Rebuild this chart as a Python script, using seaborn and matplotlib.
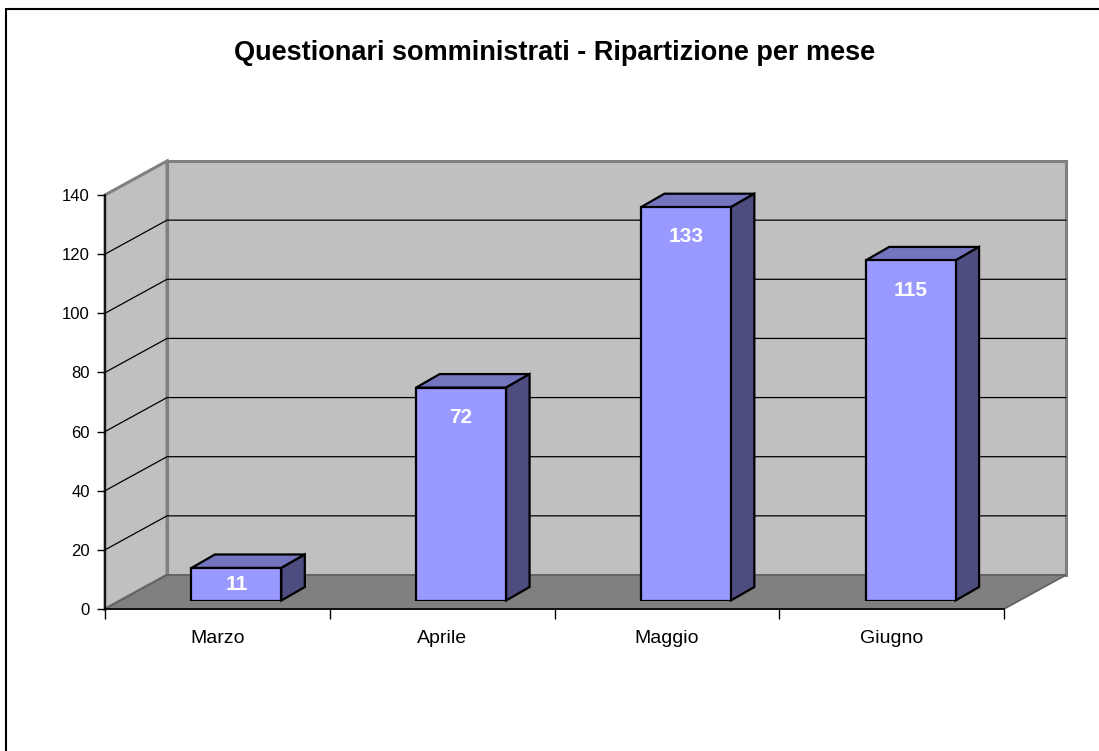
import numpy as np
import pandas as pd
import seaborn as sns
import matplotlib.pyplot as plt
import matplotlib.transforms as mtransforms
from matplotlib.patches import Polygon, Rectangle

# data
months = ['Marzo', 'Aprile', 'Maggio', 'Giugno']
counts = [11, 72, 133, 115]
y_ticks = [0, 20, 40, 60, 80, 100, 120, 140]
title = 'Questionari somministrati - Ripartizione per mese'

sns.set_style('white')
plt.rcParams['font.family'] = ['Liberation Sans', 'DejaVu Sans']
plt.rcParams['text.color'] = 'black'

W, H = 1099, 751
fig = plt.figure(figsize=(W / 100, H / 100), dpi=100)

# front plane of the 3D box (pixels, top origin)
x0, x1 = 105, 1004
yb, yt = 609, 195
wall = (62, 34)         # shift to the back wall
bar_shift = (19, 8.5)   # bars sit a bit inside the box
bar_depth = (23.5, 13.5)


def pos(dx=0, dy=0):
    return [(x0 + dx) / W, (H - yb + dy) / H, (x1 - x0) / W, (yb - yt) / H]


ax = fig.add_axes(pos())
axb = fig.add_axes(pos(*bar_shift))

ident = mtransforms.IdentityTransform()


def px(a, x, y, off=(0, 0)):
    p = a.transData.transform((x, y))
    return (p[0] + off[0], p[1] + off[1])


ax.set_xlim(-0.5, 3.5)
ax.set_ylim(0, 140)
ax.patch.set_visible(False)

# walls and floor
back = [px(ax, -0.5, 0, wall), px(ax, 3.5, 0, wall), px(ax, 3.5, 140, wall), px(ax, -0.5, 140, wall)]
floor = [px(ax, -0.5, 0), px(ax, 3.5, 0), px(ax, 3.5, 0, wall), px(ax, -0.5, 0, wall)]
side = [px(ax, -0.5, 0), px(ax, -0.5, 0, wall), px(ax, -0.5, 140, wall), px(ax, -0.5, 140)]
ax.add_patch(Polygon(back, closed=True, facecolor='#C0C0C0', edgecolor='#808080', lw=2.2,
                     transform=ident, clip_on=False, zorder=0.5))
ax.add_patch(Polygon(side, closed=True, facecolor='#C0C0C0', edgecolor='#808080', lw=2.2,
                     transform=ident, clip_on=False, zorder=0.5))
ax.add_patch(Polygon(floor, closed=True, facecolor='#808080', edgecolor='#606060', lw=1.2,
                     transform=ident, clip_on=False, zorder=0.6))

# gridlines on the walls
for v in y_ticks[1:-1]:
    pts = np.array([px(ax, -0.5, v), px(ax, -0.5, v, wall), px(ax, 3.5, v, wall)])
    ax.plot(pts[:, 0], pts[:, 1], color='black', lw=0.9, transform=ident, clip_on=False, zorder=0.7)

# axes decoration
for s in ['top', 'right']:
    ax.spines[s].set_visible(False)
for s in ['left', 'bottom']:
    ax.spines[s].set_color('black')
    ax.spines[s].set_linewidth(1.2)
ax.set_yticks(y_ticks)
ax.tick_params(axis='y', left=True, length=6, width=1, direction='out', pad=5,
               labelsize=12, colors='black')
ax.set_xticks([-0.5, 0.5, 1.5, 2.5, 3.5])
ax.set_xticklabels([])
ax.set_xticks([0, 1, 2, 3], minor=True)
ax.set_xticklabels(months, minor=True)
ax.tick_params(axis='x', which='major', bottom=True, length=7, width=1, direction='out', colors='black')
ax.tick_params(axis='x', which='minor', bottom=True, length=0, pad=15, labelsize=14, labelcolor='black')

# bars
sns.barplot(x=months, y=counts, ax=axb, color='#9999FF', saturation=1, width=0.4,
            edgecolor='black', linewidth=1.6, zorder=2)
axb.set_xlim(-0.5, 3.5)
axb.set_ylim(0, 140)
axb.axis('off')

for p in axb.patches:
    bx, bw, bh = p.get_x(), p.get_width(), p.get_height()
    fl = px(axb, bx, bh)
    fr = px(axb, bx + bw, bh)
    frb = px(axb, bx + bw, 0)
    d = bar_depth
    top = [fl, fr, (fr[0] + d[0], fr[1] + d[1]), (fl[0] + d[0], fl[1] + d[1])]
    rside = [frb, fr, (fr[0] + d[0], fr[1] + d[1]), (frb[0] + d[0], frb[1] + d[1])]
    axb.add_patch(Polygon(top, closed=True, facecolor='#7474BF', edgecolor='black', lw=1.6,
                          transform=ident, clip_on=False, zorder=1.5))
    axb.add_patch(Polygon(rside, closed=True, facecolor='#4D4D80', edgecolor='black', lw=1.6,
                          transform=ident, clip_on=False, zorder=1.5))

for i, v in enumerate(counts):
    axb.text(i, max(v - 10, v / 2), str(v), ha='center', va='center', color='white',
             fontsize=15, fontweight='bold', zorder=3)

# title and outer border
fig.text(555 / W, 1 - 53 / H, title, ha='center', va='center', fontsize=19.5,
         fontweight='bold', color='black')
fig.patches.append(Rectangle((6 / W, -0.05), 1.1, (H - 9) / H + 0.05, transform=fig.transFigure,
                             fill=False, edgecolor='black', lw=1.5))

fig.savefig('out.png', dpi=100)
